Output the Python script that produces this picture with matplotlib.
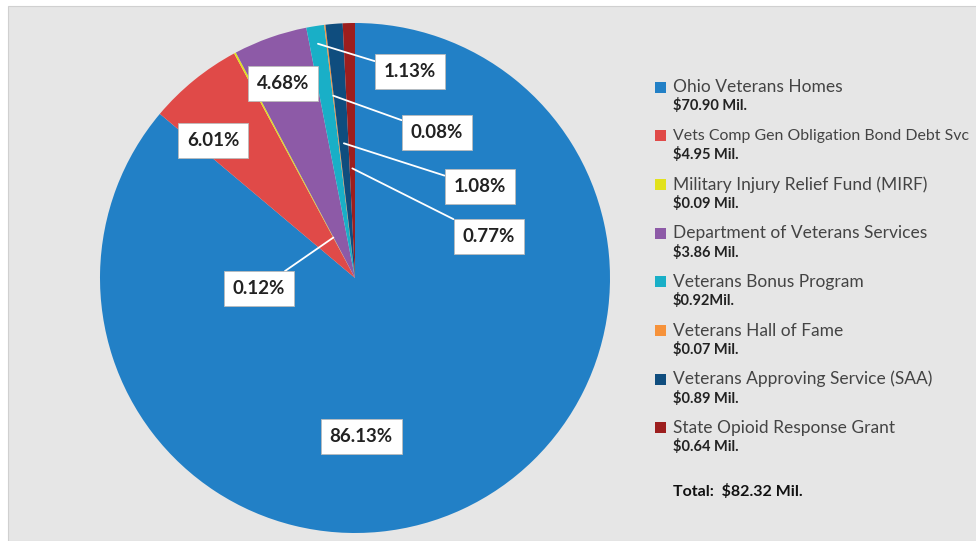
import numpy as np
import matplotlib.pyplot as plt
from matplotlib.patches import Rectangle

names = ["Ohio Veterans Homes", "Vets Comp Gen Obligation Bond Debt Svc",
         "Military Injury Relief Fund (MIRF)", "Department of Veterans Services",
         "Veterans Bonus Program", "Veterans Hall of Fame",
         "Veterans Approving Service (SAA)", "State Opioid Response Grant"]
amounts = ["$70.90 Mil.", "$4.95 Mil.", "$0.09 Mil.", "$3.86 Mil.",
           "$0.92Mil.", "$0.07 Mil.", "$0.89 Mil.", "$0.64 Mil."]
shares = [86.13, 6.01, 0.12, 4.68, 1.13, 0.08, 1.08, 0.77]
total = "Total:  $82.32 Mil."
colors = ["#2280c6", "#e04a48", "#e2e21c", "#8d5aa7", "#19afc7",
          "#f6923a", "#0f4d7e", "#9c1e1e"]

# label text positions and leader anchor radii (pie data coords)
label_pos = [(0.024, -0.62), (-0.557, 0.541), (-0.376, -0.043), (-0.282, 0.761),
             (0.216, 0.808), (0.322, 0.569), (0.49, 0.357), (0.525, 0.161)]
anchor_r = [None, None, 0.18, None, 0.93, 0.72, 0.53, 0.43]

fig = plt.figure(figsize=(9.76, 5.41), dpi=100)
fig.patch.set_facecolor("white")
fig.patches.append(Rectangle((8 / 976, 0), 1, 1 - 6 / 541, transform=fig.transFigure,
                             facecolor="#e6e6e6", edgecolor="#d0d0d0", lw=0.8, zorder=-5))

ax = fig.add_axes([100 / 976, 8 / 541, 510 / 976, 510 / 541])
wedges, _ = ax.pie(shares, colors=colors, startangle=90, counterclock=False,
                   radius=1, wedgeprops=dict(linewidth=0))
ax.set_xlim(-1, 1)
ax.set_ylim(-1, 1)
ax.set_aspect("equal")
ax.axis("off")

box = dict(boxstyle="square,pad=0.48", facecolor="white", edgecolor="#bbbbbb", lw=0.6)
for i, w in enumerate(wedges):
    txt = "{:.2f}%".format(shares[i])
    tx, ty = label_pos[i]
    if anchor_r[i] is None:
        ax.text(tx, ty, txt, ha="center", va="center", fontsize=13.5,
                fontweight="bold", family="Lato", color="#222222", bbox=box)
    else:
        a = np.deg2rad((w.theta1 + w.theta2) / 2)
        r = anchor_r[i]
        ax.annotate(txt, xy=(r * np.cos(a), r * np.sin(a)), xytext=(tx, ty),
                    ha="center", va="center", fontsize=13.5, fontweight="bold",
                    family="Lato", color="#222222", bbox=box,
                    arrowprops=dict(arrowstyle="-", color="white", lw=1.3,
                                    shrinkA=0, shrinkB=0))

# legend
y0 = 87
step = 48.7
renderer = fig.canvas.get_renderer()
for i in range(len(names)):
    y = y0 + i * step
    fig.patches.append(Rectangle((655 / 976, 1 - (y + 5.5) / 541), 11 / 976, 11 / 541,
                                 transform=fig.transFigure, facecolor=colors[i],
                                 edgecolor="none"))
    t = fig.text(673 / 976, 1 - y / 541, names[i], fontsize=12.5, family="Lato",
                 color="#444444", va="center", ha="left")
    wpx = t.get_window_extent(renderer).width
    if wpx > 297:
        t.set_fontsize(12.5 * 297 / wpx)
    fig.text(673 / 976, 1 - (y + 19) / 541, amounts[i], fontsize=10.5, family="Lato",
             fontweight="bold", color="#222222", va="center", ha="left")

fig.text(673 / 976, 1 - 492 / 541, total, fontsize=11.5, family="Lato",
         fontweight="bold", color="#111111", va="center", ha="left")

fig.savefig("out.png", dpi=100, facecolor=fig.get_facecolor())
